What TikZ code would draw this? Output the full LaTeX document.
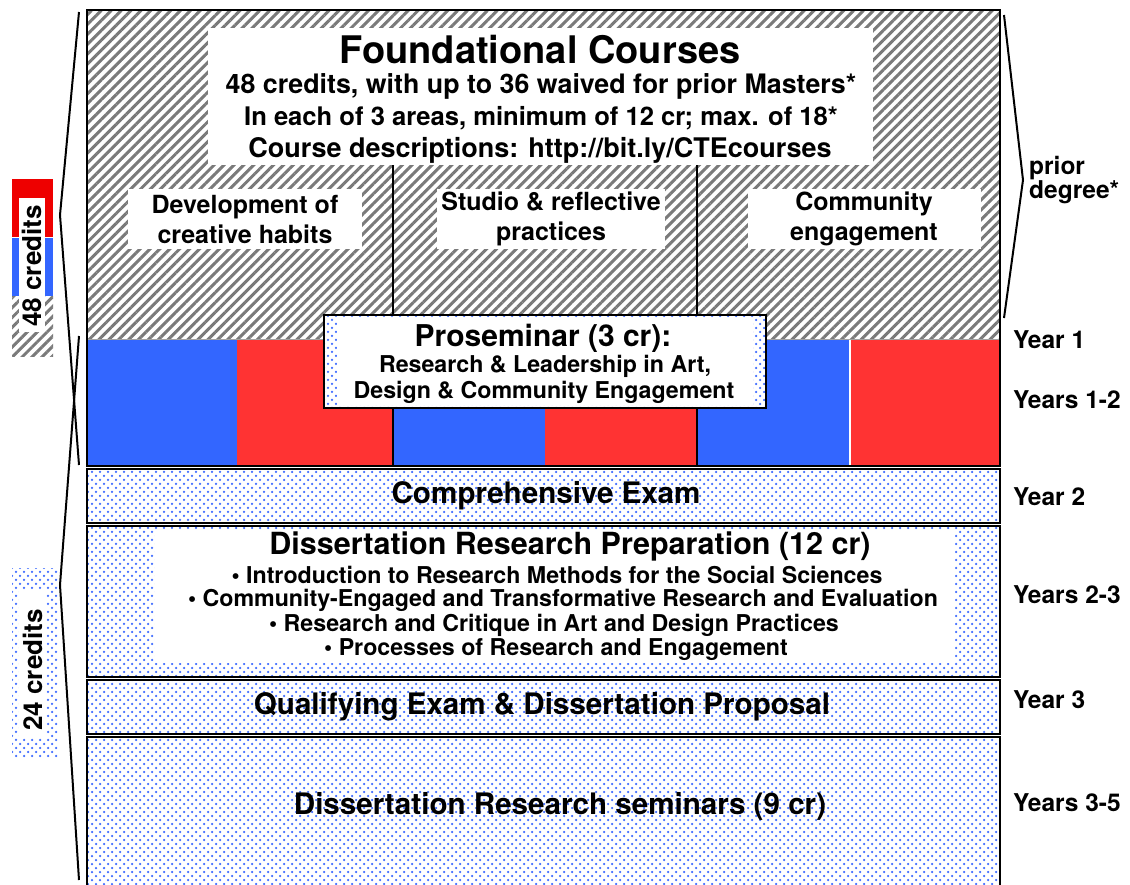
\documentclass[tikz,border=0pt]{standalone}
\usepackage{fontspec}
\setmainfont{TeX Gyre Heros}
\usetikzlibrary{patterns.meta}
\definecolor{cblue}{HTML}{3366FF}
\definecolor{cred}{HTML}{FF3333}
\definecolor{dred}{HTML}{EE0000}
\definecolor{hgray}{HTML}{7A7A7A}
\definecolor{dotblue}{HTML}{3D6BFF}
\newcommand{\fs}[1]{\bfseries\fontsize{#1}{#1}\selectfont}
\tikzset{
  hatch/.style={pattern={Lines[angle=45,distance=7pt,line width=3pt]},pattern color=hgray},
  dotted fill/.style={pattern={Dots[radius=1.25pt,distance=8pt]},pattern color=dotblue,
     postaction={pattern={Dots[radius=1.25pt,distance=8pt,xshift=4pt,yshift=4pt]},pattern color=dotblue}},
  frame/.style={draw=black,line width=2pt},
  bracket/.style={draw=black,line width=2pt,line join=miter},
  big/.style={font=\fs{29.6}},
  sub/.style={font=\bfseries\fontsize{25}{30}\selectfont,align=center},
  small/.style={font=\fs{23.2}},
  yearlab/.style={font=\bfseries\fontsize{24.5}{25}\selectfont,anchor=west,inner sep=0pt},
  credlab/.style={font=\fs{26},rotate=90},
}
\begin{document}
\begin{tikzpicture}[x=1pt,y=-1pt]
\useasboundingbox (0,0) rectangle (1130,884);
\fill[white] (0,0) rectangle (1130,884);
% ---- Foundational region (hatched)
\path[hatch] (87,10) rectangle (1000,340);
\draw[hgray!70,line width=1.5pt] (87,339.5) -- (1000,339.5);
% colored bars
\fill[cblue] (87,340) rectangle (237,466);
\fill[cred] (237,340) rectangle (393,466);
\fill[cblue] (393,340) rectangle (545,466);
\fill[cred] (545,340) rectangle (697,466);
\fill[cblue] (697,340) rectangle (850,466);
\fill[cred] (850,340) rectangle (1000,466);
\draw[white,line width=1.5pt] (850,340) -- (850,466);
% column dividers
\draw[black,line width=1.5pt] (393,165) -- (393,466);
\draw[black,line width=1.5pt] (697,165) -- (697,466);
\draw[frame] (87,10) rectangle (1000,466);
% title box
\fill[white] (208,28) rectangle (873,165);
\node[font=\fs{38}] (ftitle) at (540,50) {Foundational Courses};
\node[font=\fs{26.8}] (finfo1) at (541,86) {48 credits, with up to 36 waived for prior Masters*};
\node[font=\fs{25.6}] (finfo2) at (541,118) {In each of 3 areas, minimum of 12 cr; max. of 18*};
\node[font=\fs{27}] (finfo3) at (540,150) {Course descriptions: http://bit.ly/CTEcourses};
% area boxes
\fill[white] (128,189) rectangle (362,249);
\fill[white] (437,189) rectangle (665,249);
\fill[white] (748,189) rectangle (981,249);
\node[sub] (area1) at (245,219) {Development of\\creative habits};
\node[sub] (area2) at (551,219) {Studio \& reflective\\practices};
\node[sub] (area3) at (864,219) {Community\\engagement};
% proseminar
\fill[white] (324,315) rectangle (766,408);
\path[dotted fill] (324,315) rectangle (766,408);
\fill[white] (337,318) rectangle (753,405);
\draw[frame] (324,315) rectangle (766,408);
\node[font=\fs{30}] (pros) at (543,338) {Proseminar (3 cr):};
\node[small] (pros1) at (545,366) {Research \& Leadership in Art,};
\node[small] (pros2) at (544,392) {Design \& Community Engagement};
% lower sections
\path[dotted fill] (87,469) rectangle (1000,523);
\draw[frame] (87,469) rectangle (1000,523);
\path[dotted fill] (87,526) rectangle (1000,677);
\draw[frame] (87,526) rectangle (1000,677);
\path[dotted fill] (87,680) rectangle (1000,734);
\draw[frame] (87,680) rectangle (1000,734);
\path[dotted fill] (87,737) rectangle (1000,900);
\draw[frame] (87,737) rectangle (1000,900);
\node[big] (comp) at (546,496) {Comprehensive Exam};
\fill[white] (155,530) rectangle (955,663);
\node[font=\fs{30.5}] (drp) at (570,546) {Dissertation Research Preparation (12 cr)};
\node[small] (b1) at (557,575) {\textbullet\ Introduction to Research Methods for the Social Sciences};
\node[small] (b2) at (563,600) {\textbullet\ Community-Engaged and Transformative Research and Evaluation};
\node[small] (b3) at (554,625) {\textbullet\ Research and Critique in Art and Design Practices};
\node[small] (b4) at (556,650) {\textbullet\ Processes of Research and Engagement};
\node[big] (qual) at (542,707) {Qualifying Exam \& Dissertation Proposal};
\node[big] (sem) at (560,806) {Dissertation Research seminars (9 cr)};
% year labels
\node[yearlab] (y1) at (1013,340) {Year 1};
\node[yearlab] (y12) at (1013,400) {Years 1-2};
\node[yearlab] (y2) at (1013,497) {Year 2};
\node[yearlab] (y23) at (1013,595) {Years 2-3};
\node[yearlab] (y3) at (1013,700) {Year 3};
\node[yearlab] (y35) at (1013,803) {Years 3-5};
\node[font=\bfseries\fontsize{24.5}{24}\selectfont,anchor=west,inner sep=0pt,align=left] (prior) at (1029,180) {prior\\degree*};
% brackets
\coordinate (la1) at (79,12); \coordinate (lb1) at (60,215); \coordinate (lc1) at (79,465);
\coordinate (la2) at (79,336); \coordinate (lb2) at (60,585); \coordinate (lc2) at (79,880);
\coordinate (ra) at (1004,15); \coordinate (rb) at (1023,180); \coordinate (rc) at (1004,318);
\draw[bracket] (la1) -- (lb1) -- (lc1);
\draw[bracket] (la2) -- (lb2) -- (lc2);
\draw[bracket] (ra) -- (rb) -- (rc);
% left credit bars
\fill[dred] (12,179) rectangle (53,237);
\fill[cblue] (12,238) rectangle (53,296);
\path[hatch] (12,296) rectangle (53,356);
\fill[white] (19,198) rectangle (45,332);
\node[credlab] (c48) at (32,266) {48 credits};
\path[dotted fill] (12,568) rectangle (58,757);
\fill[white] (19,590) rectangle (46,738);
\node[credlab] (c24) at (33,670) {24 credits};
\end{tikzpicture}
\end{document}
